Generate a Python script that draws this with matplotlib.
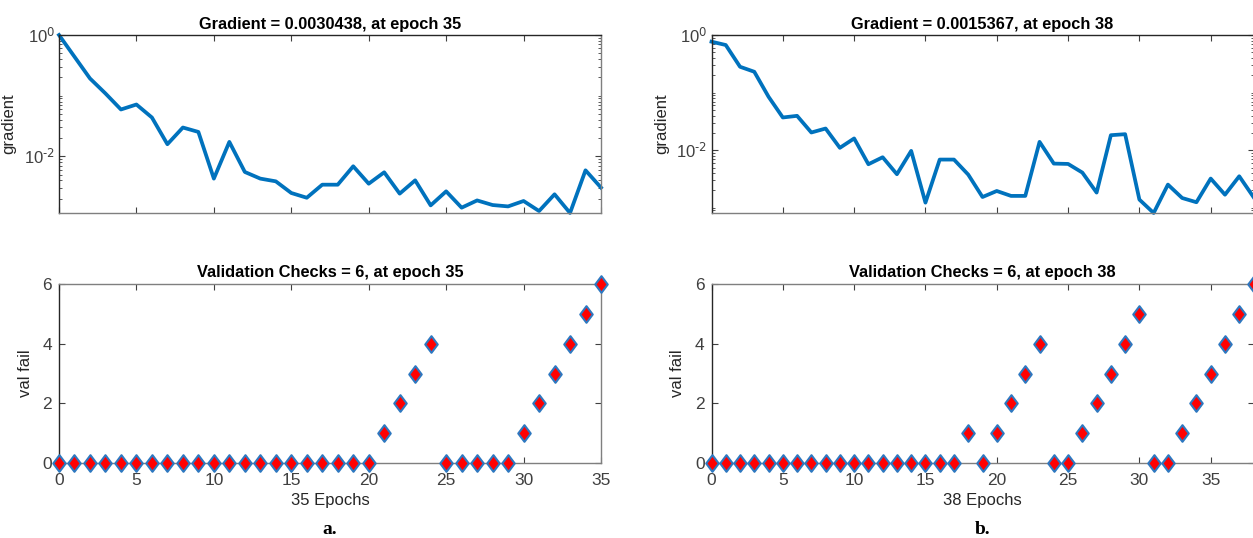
import math
import matplotlib
matplotlib.use("Agg")
import matplotlib.pyplot as plt
import matplotlib.ticker as mticker
from matplotlib.path import Path

plt.rcParams["font.family"] = ["Liberation Sans", "DejaVu Sans"]
plt.rcParams["mathtext.default"] = "regular"

# gradient per epoch
grad_a = [1.0, 0.438, 0.192, 0.1086, 0.0591, 0.0714, 0.0436, 0.0158, 0.0298, 0.0252,
          0.00428, 0.01726, 0.00551, 0.00428, 0.00386, 0.00248, 0.00207, 0.0034, 0.0034,
          0.00684, 0.00353, 0.00544, 0.00242, 0.00401, 0.00155, 0.00264, 0.00142, 0.00187,
          0.00157, 0.00149, 0.00183, 0.00125, 0.00236, 0.00116, 0.00587, 0.0030438]
grad_b = [0.766, 0.670, 0.281, 0.230, 0.0847, 0.0370, 0.0395, 0.0203, 0.0238, 0.0110,
          0.0160, 0.00571, 0.00755, 0.00383, 0.00973, 0.00123, 0.00688, 0.00688, 0.00377,
          0.00154, 0.00196, 0.00161, 0.00161, 0.01396, 0.00586, 0.00578, 0.00409, 0.00184,
          0.01823, 0.01897, 0.00139, 0.000813, 0.00253, 0.00148, 0.00125, 0.00322, 0.00169,
          0.00353, 0.0015367]

# validation failures per epoch
valfail_a = [0] * 21 + [1, 2, 3, 4, 0, 0, 0, 0, 0, 1, 2, 3, 4, 5, 6]
valfail_b = [0] * 18 + [1, 0, 1, 2, 3, 4, 0, 0, 1, 2, 3, 4, 5, 0, 0, 1, 2, 3, 4, 5, 6]

titles_grad = ["Gradient = 0.0030438, at epoch 35", "Gradient = 0.0015367, at epoch 38"]
titles_val = ["Validation Checks = 6, at epoch 35", "Validation Checks = 6, at epoch 38"]
xlabels = ["35 Epochs", "38 Epochs"]
panel_tags = ["a.", "b."]

W, H = 1253, 538
fig = plt.figure(figsize=(W / 100, H / 100), dpi=100)

line_col = "#0072BD"
tick_col = "#404040"
diamond = Path([(0, 1), (0.75, 0), (0, -1), (-0.75, 0), (0, 1)],
               [Path.MOVETO, Path.LINETO, Path.LINETO, Path.LINETO, Path.CLOSEPOLY])


def px_axes(x0, y0, x1, y1):
    return fig.add_axes([x0 / W, 1 - y1 / H, (x1 - x0) / W, (y1 - y0) / H])


def style(ax):
    ax.tick_params(direction="in", which="both", top=True, right=True,
                   colors=tick_col, labelsize=12.5, length=4)
    ax.tick_params(which="minor", length=2.5)
    ax.tick_params(axis="y", pad=5)
    for s in ax.spines.values():
        s.set_color("#7f7f7f")
        s.set_linewidth(1.0)
    ax.spines["left"].set_color("#262626")


def log_label(v, pos):
    e = round(math.log10(v))
    return r"$10^{\text{%d}}$" % e


lefts = [59, 711.5]
for i, (grad, vf) in enumerate([(grad_a, valfail_a), (grad_b, valfail_b)]):
    x0 = lefts[i]
    x1 = x0 + 542
    n = len(grad) - 1
    epochs = list(range(n + 1))

    ax = px_axes(x0, 35, x1, 213)
    ax.semilogy(epochs, grad, color=line_col, lw=2.7, clip_on=False)
    ax.set_xlim(0, n)
    ax.set_ylim(min(grad), 1.0)
    ax.yaxis.set_major_locator(mticker.FixedLocator([1e-2, 1e0]))
    ax.yaxis.set_major_formatter(mticker.FuncFormatter(log_label))
    ax.yaxis.set_minor_locator(mticker.LogLocator(base=10, subs=range(1, 10), numticks=20))
    ax.yaxis.set_minor_formatter(mticker.NullFormatter())
    ax.set_xticks(range(0, n + 1, 5))
    ax.set_xticklabels([])
    style(ax)
    ax.tick_params(axis="y", labelsize=12, pad=3)
    ax.spines["top"].set_color("#262626")
    ax.set_ylabel("gradient", fontsize=12, color="#262626")
    ax.yaxis.set_label_coords(-0.078, 0.5)
    ax.set_title(titles_grad[i], fontsize=11.8, fontweight="bold", pad=4)

    ax2 = px_axes(x0, 284, x1, 463)
    ax2.plot(epochs, vf, linestyle="none", marker=diamond, markersize=12,
             markerfacecolor="red", markeredgecolor="#2e78c0", markeredgewidth=1.5,
             clip_on=False, zorder=3)
    ax2.set_xlim(0, n)
    ax2.set_ylim(0, 6)
    ax2.set_xticks(range(0, n + 1, 5))
    ax2.set_yticks([0, 2, 4, 6])
    style(ax2)
    ax2.tick_params(axis="x", pad=7)
    ax2.set_ylabel("val fail", fontsize=12, color="#262626")
    ax2.yaxis.set_label_coords(-0.048, 0.5)
    ax2.set_xlabel(xlabels[i], fontsize=12, color="#262626", labelpad=4)
    ax2.set_title(titles_val[i], fontsize=11.8, fontweight="bold", pad=5)

    fig.text((x0 + 271) / W, 1 - 530 / H, panel_tags[i], ha="center", va="center",
             fontsize=14, fontweight="bold", family=["Liberation Serif", "DejaVu Serif"])

fig.savefig("out.png", dpi=100, facecolor="white")
